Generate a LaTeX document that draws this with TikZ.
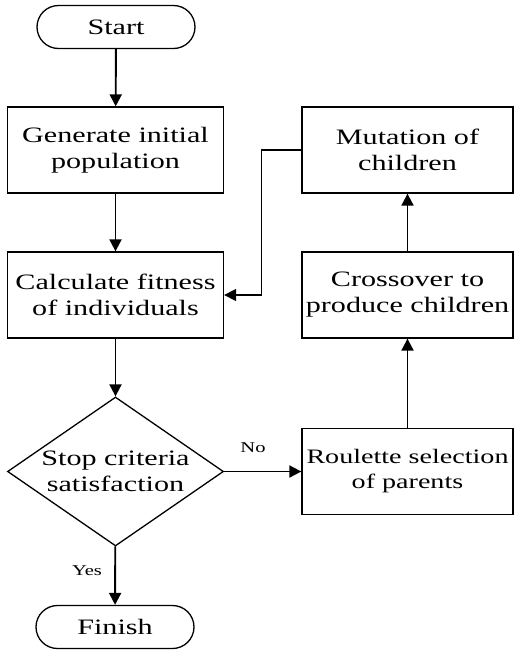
\documentclass[tikz,border=0pt]{standalone}
\usepackage{fontspec}
\setmainfont{Liberation Serif}[FakeStretch=1.37]
\usetikzlibrary{shapes.geometric,arrows.meta}
\begin{document}
\begin{tikzpicture}[x=1pt,y=-1pt,
  every node/.style={font=\fontsize{22}{26}\selectfont, align=center, inner sep=0pt},
  box/.style={draw, line width=1.3pt, rectangle, minimum width=211pt, minimum height=86pt},
  lbox/.style={box, minimum width=216pt},
  term/.style={draw, line width=1.3pt, rectangle, rounded corners=21.5pt, minimum width=158pt, minimum height=43pt},
  dec/.style={draw, line width=1.3pt, diamond, minimum width=216pt, minimum height=149pt},
  small/.style={font=\fontsize{15}{18}\selectfont},
  arr/.style={line width=1.9pt, -{Triangle[length=12pt,width=12pt]}},
  thin/.style={line width=1.4pt, -{Triangle[length=12pt,width=12pt]}}
]
\useasboundingbox (0,0) rectangle (515,653);
\node[term] (start) at (116,27) {Start};
\node[lbox] (gen) at (115.5,150) {Generate initial\\population};
\node[lbox] (calc) at (115.5,295) {Calculate fitness\\of individuals};
\node[dec, label={[font=\fontsize{22}{26}\selectfont, align=center]center:Stop criteria\\satisfaction}] (stop) at (115.5,471.5) {};
\node[term] (finish) at (115,627) {Finish};
\node[box] (mut) at (407.5,150) {Mutation of\\children};
\node[box] (cross) at (407.5,295) {Crossover to\\produce children};
\node[box, font=\fontsize{20.5}{25}\selectfont] (roul) at (407.5,471.5) {Roulette selection\\of parents};

\draw[arr] (start) -- (gen);
\draw[arr] (gen) -- (calc);
\draw[arr] (calc) -- (stop);
\draw[arr] (stop) -- (finish);
\draw[arr] (stop) -- (roul);
\draw[arr] (roul) -- (cross);
\draw[arr] (cross) -- (mut);
\draw[thin] (mut.west) -- ++(-40,0) |- (calc.east);
\node[small] (no) at (253,448) {No};
\node[small] (yes) at (87,571) {Yes};
\end{tikzpicture}
\end{document}
